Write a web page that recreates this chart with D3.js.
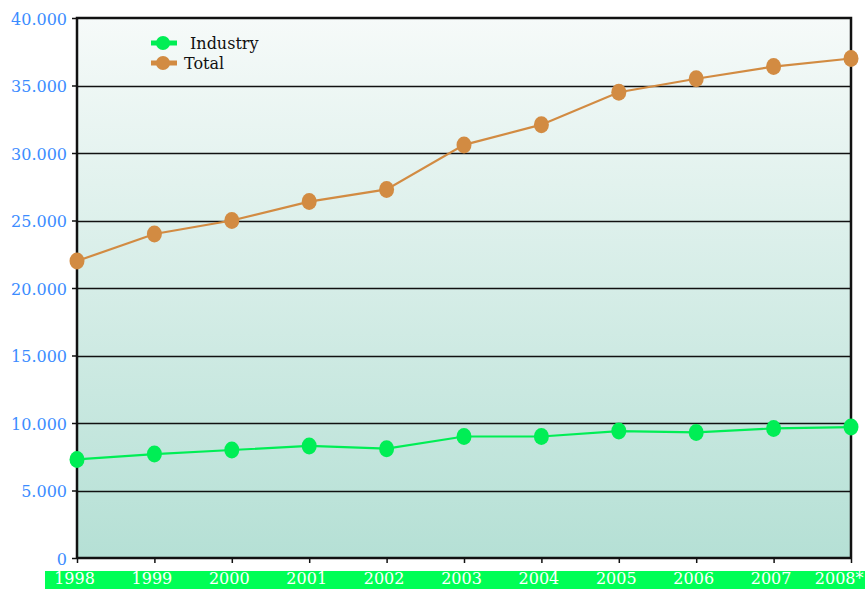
<!DOCTYPE html>
<html>
<head>
<meta charset="utf-8">
<script src="https://cdn.jsdelivr.net/npm/d3@7"></script>
<style>
  body { margin: 0; background: #fff; }
  text { font-family: "DejaVu Serif", serif; }
</style>
</head>
<body>
<div id="chart"></div>
<script>
// data
var years = ["1998", "1999", "2000", "2001", "2002", "2003", "2004", "2005", "2006", "2007", "2008*"];
var industry = [7300, 7700, 8000, 8300, 8100, 9000, 9000, 9400, 9300, 9600, 9700];
var total = [22000, 24000, 25000, 26400, 27300, 30600, 32100, 34500, 35500, 36400, 37000];
var yTicks = [0, 5000, 10000, 15000, 20000, 25000, 30000, 35000, 40000];

var W = 865, H = 589;
var margin = {top: 18, right: 14, bottom: 31, left: 77};
var width = W - margin.left - margin.right,
    height = H - margin.top - margin.bottom;

var svg = d3.select("#chart").append("svg")
    .attr("width", W)
    .attr("height", H);

var defs = svg.append("defs");
var grad = defs.append("linearGradient")
    .attr("id", "bg")
    .attr("x1", 0).attr("y1", 0).attr("x2", 0).attr("y2", 1);
grad.append("stop").attr("offset", "0%").attr("stop-color", "#f6faf9");
grad.append("stop").attr("offset", "100%").attr("stop-color", "#b5e0d5");

// green band behind x labels (drawn first so labels sit on it)
svg.append("rect")
    .attr("x", 45).attr("y", margin.top + height + 13)
    .attr("width", W - 45).attr("height", 18)
    .attr("fill", "#00ff55");

var g = svg.append("g")
    .attr("transform", "translate(" + margin.left + "," + margin.top + ")");

var x = d3.scalePoint().domain(years).range([0, width]);
var y = d3.scaleLinear().domain([0, 40000]).range([height, 0]);

g.append("rect")
    .attr("width", width).attr("height", height)
    .attr("fill", "url(#bg)");

// grid lines
g.selectAll(".grid")
    .data(yTicks.slice(1, -1))
    .enter().append("line")
    .attr("class", "grid")
    .attr("x1", 0).attr("x2", width)
    .attr("y1", function(d) { return Math.round(y(d)) + 0.5; })
    .attr("y2", function(d) { return Math.round(y(d)) + 0.5; })
    .attr("stroke", "#111")
    .attr("stroke-width", 1.3);

var fmt = function(d) { return d === 0 ? "0" : d3.format(",")(d).replace(/,/g, "."); };

var yAxis = g.append("g")
    .call(d3.axisLeft(y).tickValues(yTicks).tickFormat(fmt).tickSize(5).tickSizeOuter(0));
yAxis.select(".domain").remove();
yAxis.selectAll("line").attr("stroke", "#111").attr("stroke-width", 1.5);
yAxis.selectAll("text")
    .attr("fill", "#3b8cff")
    .attr("font-size", 16)
    .attr("x", -10)
    .attr("dy", "0.4em")
    .style("font-family", "DejaVu Serif, serif");

var xAxis = g.append("g")
    .attr("transform", "translate(0," + height + ")")
    .call(d3.axisBottom(x).tickSize(5).tickSizeOuter(0));
xAxis.select(".domain").remove();
xAxis.selectAll("line").attr("stroke", "#111").attr("stroke-width", 1.5);
xAxis.selectAll("text")
    .attr("fill", "#fff")
    .attr("font-size", 16)
    .attr("x", function(d, i) { return i === years.length - 1 ? 12 : -3; })
    .attr("text-anchor", function(d, i) { return i === years.length - 1 ? "end" : "middle"; })
    .attr("y", 15)
    .attr("dy", "0.71em")
    .style("font-family", "DejaVu Serif, serif");

// frame
g.append("path")
    .attr("d", "M0," + height + "V0H" + width + "V" + height)
    .attr("fill", "none")
    .attr("stroke", "#111")
    .attr("stroke-width", 2.5);
g.append("line")
    .attr("x1", 0).attr("x2", width)
    .attr("y1", height).attr("y2", height)
    .attr("stroke", "#111")
    .attr("stroke-width", 2.5);

var line = d3.line()
    .x(function(d, i) { return x(years[i]); })
    .y(function(d) { return y(d); });

var series = [
  {name: "Industry", values: industry, color: "#00ee55"},
  {name: "Total", values: total, color: "#d28b42"}
];

series.forEach(function(s) {
  g.append("path")
      .datum(s.values)
      .attr("d", line)
      .attr("fill", "none")
      .attr("stroke", s.color)
      .attr("stroke-width", 2.2);
  g.selectAll(".pt-" + s.name)
      .data(s.values)
      .enter().append("ellipse")
      .attr("cx", function(d, i) { return x(years[i]); })
      .attr("cy", function(d) { return y(d); })
      .attr("rx", 7.5)
      .attr("ry", 8.5)
      .attr("fill", s.color);
});

// legend
var legend = svg.append("g");
series.forEach(function(s, i) {
  var ly = 43 + i * 20;
  legend.append("line")
      .attr("x1", 151).attr("x2", 177)
      .attr("y1", ly).attr("y2", ly)
      .attr("stroke", s.color).attr("stroke-width", 5);
  legend.append("ellipse")
      .attr("cx", 163).attr("cy", ly)
      .attr("rx", 7).attr("ry", 7)
      .attr("fill", s.color);
  legend.append("text")
      .attr("x", i === 0 ? 190 : 184)
      .attr("y", ly)
      .attr("dy", "0.35em")
      .attr("font-size", 16)
      .attr("fill", "#111")
      .text(s.name);
});
</script>
</body>
</html>
